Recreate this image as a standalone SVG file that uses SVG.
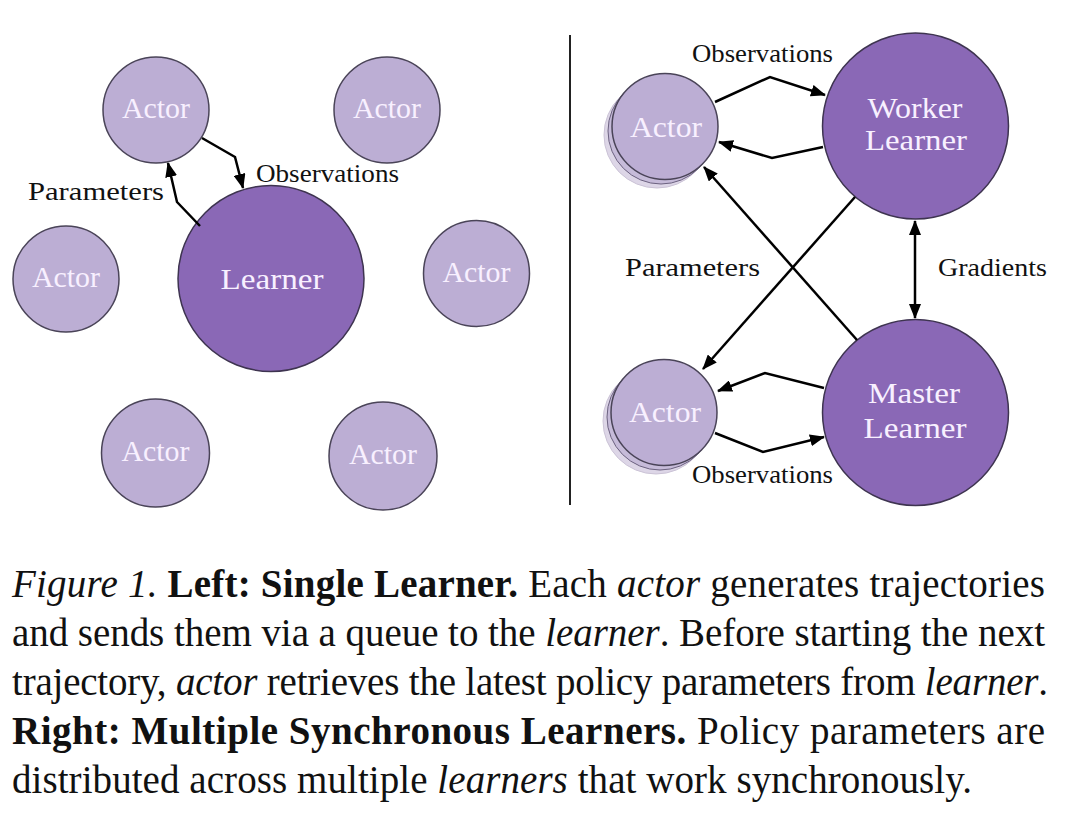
<svg xmlns="http://www.w3.org/2000/svg" width="1080" height="816" viewBox="0 0 1080 816" font-family="Liberation Serif, Times New Roman, serif">
<defs>
<marker id="ah" markerUnits="userSpaceOnUse" markerWidth="16" markerHeight="12" refX="14" refY="6" orient="auto-start-reverse" viewBox="0 0 16 12">
<path d="M0,0 L15,6 L0,12 z" fill="#000"/>
</marker>
<style>
.actor{fill:#bcaed4;stroke:#4a4458;stroke-width:1.5}
.learner{fill:#8a68b6;stroke:#3e3450;stroke-width:1.5}
.sh1{fill:#c6bbd9;stroke:#6c6280;stroke-width:1}
.sh2{fill:#ddd6e7;stroke:#cbc3d6;stroke-width:1}
.nl{fill:#f8f0ff;text-anchor:middle}
.lbl{font-size:25px;fill:#111}
.con{fill:none;stroke:#000;stroke-width:2.5;stroke-linejoin:miter}
.cap{font-size:39px;fill:#111}
.it{font-style:italic}
.bd{font-weight:bold}
</style>
</defs>
<rect width="1080" height="816" fill="#fff"/>

<line x1="570" y1="35" x2="570" y2="505" stroke="#222" stroke-width="2"/>

<g id="left-actor-tl">
<circle class="actor" cx="156" cy="110" r="53"/>
<text class="nl" x="156" y="118" font-size="29" textLength="68" lengthAdjust="spacingAndGlyphs">Actor</text>
</g>
<g id="left-actor-tr">
<circle class="actor" cx="387" cy="110" r="53"/>
<text class="nl" x="387" y="118" font-size="29" textLength="68" lengthAdjust="spacingAndGlyphs">Actor</text>
</g>
<g id="left-actor-ml">
<circle class="actor" cx="66" cy="279" r="53"/>
<text class="nl" x="66" y="287" font-size="29" textLength="68" lengthAdjust="spacingAndGlyphs">Actor</text>
</g>
<g id="left-learner">
<circle class="learner" cx="271" cy="278.5" r="93"/>
<text class="nl" x="272" y="289" font-size="30" textLength="103" lengthAdjust="spacingAndGlyphs">Learner</text>
</g>
<g id="left-actor-mr">
<circle class="actor" cx="476.5" cy="273.5" r="53"/>
<text class="nl" x="476.5" y="282" font-size="29" textLength="68" lengthAdjust="spacingAndGlyphs">Actor</text>
</g>
<g id="left-actor-bl">
<circle class="actor" cx="155.5" cy="453" r="54"/>
<text class="nl" x="155.5" y="461" font-size="29" textLength="68" lengthAdjust="spacingAndGlyphs">Actor</text>
</g>
<g id="left-actor-br">
<circle class="actor" cx="383" cy="456" r="54"/>
<text class="nl" x="383" y="464" font-size="29" textLength="68" lengthAdjust="spacingAndGlyphs">Actor</text>
</g>

<g id="right-actor-top">
<circle class="sh2" cx="657" cy="135" r="53"/>
<circle class="sh1" cx="661" cy="131" r="53"/>
<circle class="actor" cx="665" cy="126.5" r="53"/>
<text class="nl" x="666" y="137" font-size="29" textLength="72" lengthAdjust="spacingAndGlyphs">Actor</text>
</g>
<g id="worker-learner">
<circle class="learner" cx="915.5" cy="126" r="93"/>
<text class="nl" x="915" y="118" font-size="30" textLength="95" lengthAdjust="spacingAndGlyphs">Worker</text>
<text class="nl" x="916" y="150" font-size="30" textLength="102" lengthAdjust="spacingAndGlyphs">Learner</text>
</g>
<g id="right-actor-bottom">
<circle class="sh2" cx="656" cy="421" r="53"/>
<circle class="sh1" cx="660" cy="417" r="53"/>
<circle class="actor" cx="664" cy="412.5" r="53"/>
<text class="nl" x="665" y="422" font-size="29" textLength="72" lengthAdjust="spacingAndGlyphs">Actor</text>
</g>
<g id="master-learner">
<circle class="learner" cx="915.5" cy="412.5" r="93"/>
<text class="nl" x="914" y="403" font-size="30" textLength="92" lengthAdjust="spacingAndGlyphs">Master</text>
<text class="nl" x="915" y="438" font-size="30" textLength="103" lengthAdjust="spacingAndGlyphs">Learner</text>
</g>

<g id="connectors">
<path class="con" d="M202 138 L235 157 L243 188" marker-end="url(#ah)"/>
<path class="con" d="M200 226 L177 202 L168 163" marker-end="url(#ah)"/>
<path class="con" d="M715 102 L770 77 L825 95" marker-end="url(#ah)"/>
<path class="con" d="M823 147 L772 158 L719 142" marker-end="url(#ah)"/>
<path class="con" d="M855 197 L703 369" marker-end="url(#ah)"/>
<path class="con" d="M857 340 L704 167" marker-end="url(#ah)"/>
<path class="con" d="M915 221 L915 318" marker-start="url(#ah)" marker-end="url(#ah)"/>
<path class="con" d="M824 388 L765 373 L718 391" marker-end="url(#ah)"/>
<path class="con" d="M715 433 L763 452 L824 437" marker-end="url(#ah)"/>
</g>

<g id="labels">
<text class="lbl" x="256" y="182" textLength="143" lengthAdjust="spacingAndGlyphs">Observations</text>
<text class="lbl" x="28" y="200" textLength="136" lengthAdjust="spacingAndGlyphs">Parameters</text>
<text class="lbl" x="692" y="62" textLength="141" lengthAdjust="spacingAndGlyphs">Observations</text>
<text class="lbl" x="625" y="276" textLength="135" lengthAdjust="spacingAndGlyphs">Parameters</text>
<text class="lbl" x="938" y="276" textLength="109" lengthAdjust="spacingAndGlyphs">Gradients</text>
<text class="lbl" x="692" y="483" textLength="141" lengthAdjust="spacingAndGlyphs">Observations</text>
</g>

<g id="caption">
<text class="cap" x="12" y="597" textLength="1033" lengthAdjust="spacing"><tspan class="it">Figure 1.</tspan> <tspan class="bd">Left: Single Learner.</tspan> Each <tspan class="it">actor</tspan> generates trajectories</text>
<text class="cap" x="12" y="646" textLength="1033" lengthAdjust="spacing">and sends them via a queue to the <tspan class="it">learner</tspan>. Before starting the next</text>
<text class="cap" x="12" y="695" textLength="1036" lengthAdjust="spacing">trajectory, <tspan class="it">actor</tspan> retrieves the latest policy parameters from <tspan class="it">learner</tspan>.</text>
<text class="cap" x="12" y="744" textLength="1033" lengthAdjust="spacing"><tspan class="bd">Right: Multiple Synchronous Learners.</tspan> Policy parameters are</text>
<text class="cap" x="12" y="793" textLength="960" lengthAdjust="spacing">distributed across multiple <tspan class="it">learners</tspan> that work synchronously.</text>
</g>
</svg>
